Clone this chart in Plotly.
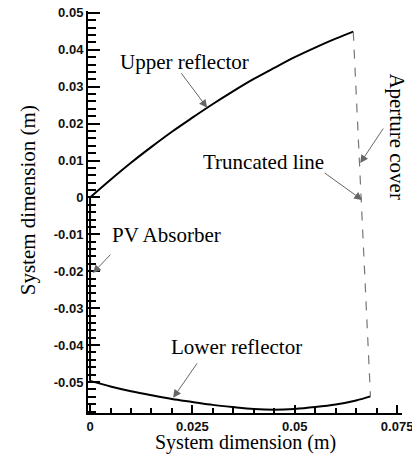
import plotly.graph_objects as go

# upper reflector profile (m)
upper_x = [0, 0.005, 0.01, 0.015, 0.02, 0.025, 0.03, 0.035, 0.04, 0.045, 0.05, 0.055, 0.06, 0.0643]
upper_y = [0, 0.0048, 0.0094, 0.0137, 0.0178, 0.0216, 0.0253, 0.0288, 0.0321, 0.0351, 0.0380, 0.0406, 0.0430, 0.0449]

# lower reflector profile (m)
lower_x = [0, 0.005, 0.01, 0.015, 0.02, 0.025, 0.03, 0.035, 0.04, 0.045, 0.05, 0.055, 0.06, 0.065, 0.0685]
lower_y = [-0.0497, -0.0512, -0.0525, -0.0536, -0.0546, -0.0554, -0.0562, -0.0568, -0.0573, -0.0575,
           -0.0573, -0.0568, -0.0561, -0.0550, -0.0539]

# aperture cover (dashed)
cover_x = [0.0643, 0.0685]
cover_y = [0.0449, -0.0539]

# PV absorber
pv_x = [0, 0]
pv_y = [0, -0.0497]

xtick_vals = [0, 0.025, 0.05, 0.075]
xtick_text = ["0", "0.025", "0.05", "0.075"]
ytick_vals = [0.05, 0.04, 0.03, 0.02, 0.01, 0, -0.01, -0.02, -0.03, -0.04, -0.05]
ytick_text = ["0.05", "0.04", "0.03", "0.02", "0.01", "0", "-0.01", "-0.02", "-0.03", "-0.04", "-0.05"]

serif = "Liberation Serif"
lab_font = dict(family=serif, size=21, color="black")
tick_font = dict(family="Liberation Sans", size=13, color="#111", weight="bold")

fig = go.Figure()
fig.add_trace(go.Scatter(x=upper_x, y=upper_y, mode="lines", line=dict(color="black", width=2), line_shape="spline"))
fig.add_trace(go.Scatter(x=lower_x, y=lower_y, mode="lines", line=dict(color="black", width=2), line_shape="spline"))
fig.add_trace(go.Scatter(x=cover_x, y=cover_y, mode="lines", line=dict(color="#777", width=1.2, dash="dash")))
fig.add_trace(go.Scatter(x=pv_x, y=pv_y, mode="lines", line=dict(color="black", width=2)))

# labels
labels = [
    ("Upper reflector", 0.0231, 0.0367, 0),
    ("Truncated line", 0.0423, 0.0096, 0),
    ("Aperture cover", 0.0751, 0.0164, 90),
    ("PV Absorber", 0.0186, -0.0102, 0),
    ("Lower reflector", 0.0357, -0.0405, 0),
]
for txt, lx, ly, ang in labels:
    fig.add_annotation(x=lx, y=ly, text=txt, showarrow=False, font=lab_font, textangle=ang)

# arrows: tip position and tail offset in px
arrows = [
    (0.0286, 0.0243, -27, -36),
    (0.0665, -0.0007, -39, -28),
    (0.0660, 0.0093, 24, -36),
    (0.0007, -0.0205, 19, -20),
    (0.0203, -0.0543, 25, -36),
]
for tx, ty, ax, ay in arrows:
    fig.add_annotation(x=tx, y=ty, ax=ax, ay=ay, text="", showarrow=True,
                       arrowhead=2, arrowsize=1.6, arrowwidth=1, arrowcolor="#666")

# page body has an 8px margin, so the figure is sized to fit the window
fig.update_layout(
    width=412, height=446,
    margin=dict(l=80, r=18, t=3, b=41),
    plot_bgcolor="white", paper_bgcolor="white",
    showlegend=False,
)
fig.update_xaxes(
    range=[-0.0005, 0.0762], tickvals=xtick_vals, ticktext=xtick_text, automargin=False,
    ticklabeloverflow="allow",
    showgrid=False, zeroline=False, showline=True, linecolor="black", linewidth=2,
    ticks="inside", ticklen=8, tickwidth=1.5, tickcolor="black", tickfont=tick_font,
    minor=dict(ticks="inside", dtick=0.005, ticklen=5, tickwidth=1.5, tickcolor="black", showgrid=False),
)
fig.update_yaxes(
    range=[-0.0584, 0.0505], tickvals=ytick_vals, ticktext=ytick_text, automargin=False,
    ticklabeloverflow="allow",
    showgrid=False, zeroline=False, showline=True, linecolor="black", linewidth=2,
    ticks="inside", ticklen=12, tickwidth=1.5, tickcolor="black", tickfont=tick_font,
    minor=dict(ticks="inside", dtick=0.002, ticklen=8, tickwidth=1.5, tickcolor="black", showgrid=False),
)
fig.add_annotation(x=-0.19, y=0.53, xref="paper", yref="paper", text="System dimension (m)",
                   showarrow=False, textangle=-90, font=lab_font, xanchor="center")
fig.add_annotation(x=0.5, y=-0.074, xref="paper", yref="paper", text="System dimension (m)",
                   showarrow=False, font=dict(family=serif, size=20, color="black"),
                   yanchor="middle", borderpad=0)

fig.write_html("out.html")
